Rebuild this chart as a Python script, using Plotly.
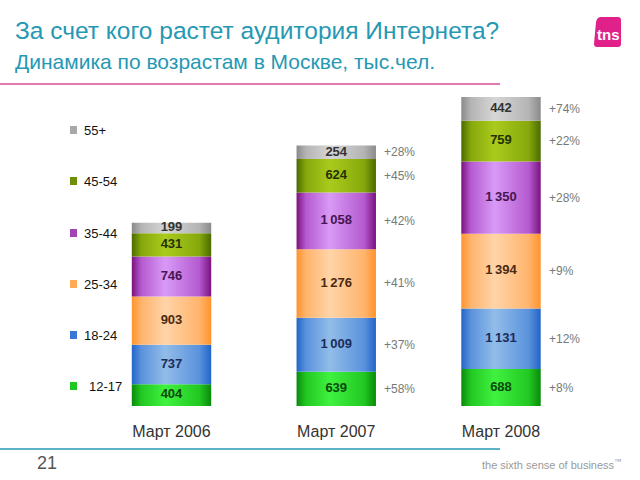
import plotly.graph_objects as go

# ---------------- data ----------------
periods = ["Март 2006", "Март 2007", "Март 2008"]
age_groups = ["12-17", "18-24", "25-34", "35-44", "45-54", "55+"]
v_12_17 = [404, 639, 688]
v_18_24 = [737, 1009, 1131]
v_25_34 = [903, 1276, 1394]
v_35_44 = [746, 1058, 1350]
v_45_54 = [431, 624, 759]
v_55p = [199, 254, 442]
growth_2007 = [58, 37, 41, 42, 45, 28]   # order of age_groups
growth_2008 = [8, 12, 9, 28, 22, 74]

series = [v_12_17, v_18_24, v_25_34, v_35_44, v_45_54, v_55p]
growth = [None, growth_2007, growth_2008]

# ---------------- styles ----------------
edge_cols = ["#0a8a0a", "#2265c8", "#ff932c", "#7a127e", "#4b6a00", "#8a8a8a"]
mid_cols = ["#22c822", "#5a92dc", "#ffb46c", "#b55ad0", "#86a80c", "#b4b4b4"]
center_cols = ["#40f240", "#92bde9", "#ffd4a8", "#d89af6", "#aacb1c", "#d6d6d6"]
text_cols = ["#0b4a0b", "#1b2c5a", "#4a2a10", "#471452", "#253200", "#333333"]
legend_cols = ["#1ec81e", "#3a78d6", "#ffaa55", "#a244b4", "#6e8e06", "#a8a8a8"]

L, T, W, H = 90, 90, 500, 316
half_w = 0.241
y_max = 5895


def px(x):
    return (x - L) / W


def py(y):
    return (T + H - y) / H


def fmt(v):
    return f"{v:,}".replace(",", "\u2009")


fig = go.Figure()

annotations = []
n = len(periods)
base = [0] * n
for s, vals in enumerate(series):
    for i in range(n):
        y0 = base[i]
        y1 = base[i] + vals[i]
        x0 = i - half_w
        x1 = i + half_w
        fig.add_trace(go.Scatter(
            x=[x0, x1, x1, x0, x0], y=[y0, y0, y1, y1, y0],
            mode="lines", line=dict(width=0), fill="toself",
            fillgradient=dict(type="horizontal", colorscale=[
                [0, edge_cols[s]], [0.12, mid_cols[s]], [0.42, center_cols[s]],
                [0.85, mid_cols[s]], [1, edge_cols[s]]]),
            hoverinfo="skip", showlegend=False))
    mids = [base[i] + vals[i] / 2 for i in range(n)]
    fig.add_trace(go.Scatter(
        x=list(range(n)), y=mids, mode="text",
        text=[fmt(v) for v in vals],
        textfont=dict(family="Arial, Liberation Sans", size=13, color=text_cols[s]),
        texttemplate="<b>%{text}</b>",
        hoverinfo="skip", showlegend=False))
    for i in range(n):
        if growth[i] is not None:
            annotations.append(dict(
                x=i + half_w, y=mids[i], xref="x", yref="y",
                text=f"+{growth[i][s]}%", showarrow=False,
                xanchor="left", xshift=6,
                font=dict(family="Arial, Liberation Sans", size=12, color="#767a76")))
    base = [base[i] + vals[i] for i in range(n)]

shapes = []
# legend
leg_y = [386, 335, 284, 233, 181, 130]
for s, name in enumerate(age_groups):
    yc = leg_y[s]
    shapes.append(dict(type="rect", xref="paper", yref="paper",
                       x0=px(70), x1=px(77), y0=py(yc + 4), y1=py(yc - 4),
                       fillcolor=legend_cols[s], line=dict(width=0)))
    annotations.append(dict(x=px(87 if name == "12-17" else 82), y=py(yc),
                            xref="paper", yref="paper", text=name, showarrow=False,
                            xanchor="left", yanchor="middle",
                            font=dict(family="Arial, Liberation Sans", size=13, color="#111111")))

# titles
annotations.append(dict(x=px(13), y=py(31), xref="paper", yref="paper",
                        text="За счет кого растет аудитория Интернета?", showarrow=False,
                        xanchor="left", yanchor="middle",
                        font=dict(family="Arial, Liberation Sans", size=24.5, color="#2598b4")))
annotations.append(dict(x=px(13), y=py(62), xref="paper", yref="paper",
                        text="Динамика по возрастам в Москве, тыс.чел.", showarrow=False,
                        xanchor="left", yanchor="middle",
                        font=dict(family="Arial, Liberation Sans", size=21, color="#2598b4")))
# footer
annotations.append(dict(x=px(35), y=py(463), xref="paper", yref="paper",
                        text="21", showarrow=False, xanchor="left", yanchor="middle",
                        font=dict(family="Arial, Liberation Sans", size=18, color="#555555")))
annotations.append(dict(x=px(624), y=py(464), xref="paper", yref="paper",
                        text="the sixth sense of business<sup>™</sup>", showarrow=False,
                        xanchor="right", yanchor="middle",
                        font=dict(family="Arial, Liberation Sans", size=11, color="#9a9a9a")))
# tns logo
lx0, lx1, ly0, ly1 = 594, 621, 17, 47
path = (f"M {px(lx0 + 7)},{py(ly0)} L {px(lx1 - 3)},{py(ly0)} "
        f"Q {px(lx1)},{py(ly0)} {px(lx1)},{py(ly0 + 3)} "
        f"L {px(lx1)},{py(ly1 - 3)} Q {px(lx1)},{py(ly1)} {px(lx1 - 3)},{py(ly1)} "
        f"L {px(lx0 + 3)},{py(ly1)} Q {px(lx0)},{py(ly1)} {px(lx0)},{py(ly1 - 3)} "
        f"L {px(lx0 + 2)},{py(ly0 + 5)} Q {px(lx0 + 3)},{py(ly0)} {px(lx0 + 7)},{py(ly0)} Z")
shapes.append(dict(type="path", xref="paper", yref="paper", path=path,
                   fillcolor="#e0218a", line=dict(width=0)))
annotations.append(dict(x=px(608), y=py(35), xref="paper", yref="paper",
                        text="<b>tns</b>", showarrow=False, xanchor="center", yanchor="middle",
                        font=dict(family="Arial, Liberation Sans", size=15, color="white")))
# lines
shapes.append(dict(type="line", xref="paper", yref="paper",
                   x0=px(0), x1=px(500), y0=py(84), y1=py(84),
                   line=dict(color="#e07ab2", width=2)))
shapes.append(dict(type="line", xref="paper", yref="paper",
                   x0=px(0), x1=px(500), y0=py(449), y1=py(449),
                   line=dict(color="#5cb3c8", width=2)))

fig.update_layout(
    width=640, height=480,
    margin=dict(l=L, r=640 - L - W, t=T, b=480 - T - H),
    paper_bgcolor="white", plot_bgcolor="rgba(0,0,0,0)",
    showlegend=False,
    xaxis=dict(range=[-0.4947, -0.4947 + W / 164.75], tickvals=list(range(n)),
               ticktext=periods, showgrid=False, zeroline=False, showline=False,
               ticks="", ticklabelstandoff=14,
               tickfont=dict(family="Arial, Liberation Sans", size=16, color="#333333")),
    yaxis=dict(range=[0, y_max], visible=False, showgrid=False, zeroline=False),
    shapes=shapes, annotations=annotations,
)

fig.write_html("out.html", config={"displayModeBar": False},
               post_script="document.body.style.margin='0';document.body.style.overflow='hidden';")
